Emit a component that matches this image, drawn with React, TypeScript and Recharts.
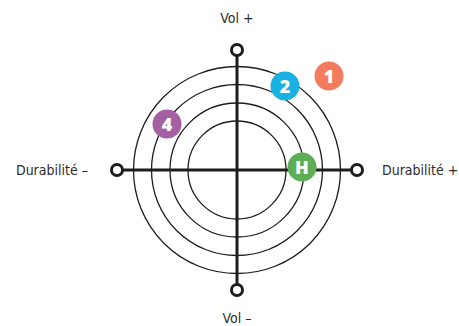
import { ReferenceLine, Scatter, ScatterChart, XAxis, YAxis } from "recharts";

// axis ends (data units, centre = 0,0)
const axisEnds = [
    { x: 0, y: 120, label: "Vol +", side: "top" },
    { x: 0, y: -120, label: "Vol –", side: "bottom" },
    { x: -120, y: 0, label: "Durabilité –", side: "left" },
    { x: 120, y: 0, label: "Durabilité +", side: "right" },
];

// concentric rings radii
const ringRadii = [49, 67, 85.5, 103.5];

// numbered markers
const markerIds = ["1", "2", "4", "H"];
const markerX = [92, 48, -70, 65];
const markerY = [94, 84, 46, 3];
const markerColors = ["#F37C5E", "#1AB0E2", "#A460A2", "#5DAE55"];

const rings = ringRadii.map(r => ({ x: 0, y: 0, r }));
const markers = markerIds.map((id, i) => ({ id, x: markerX[i], y: markerY[i], color: markerColors[i] }));

const W = 459;
const H = 326;
const X_DOMAIN: [number, number] = [-237, 222];
const Y_DOMAIN: [number, number] = [-156, 170];
const PX_PER_UNIT = W / (X_DOMAIN[1] - X_DOMAIN[0]);

const INK = "#1d1d1b";
const LABEL_FONT = "'Liberation Sans Narrow', 'DejaVu Sans Condensed', 'Roboto', sans-serif";

const RingShape = (props: any) => (
    <circle cx={props.cx} cy={props.cy} r={props.payload.r * PX_PER_UNIT} fill="none" stroke={INK} strokeWidth={1.3} />
);

const EndShape = (props: any) => {
    const { cx, cy, payload } = props;
    let tx = cx, ty = cy, anchor = "middle";
    if (payload.side === "top") ty = cy - 27;
    if (payload.side === "bottom") ty = cy + 33;
    if (payload.side === "left") { tx = cx - 29; anchor = "end"; ty = cy + 5; }
    if (payload.side === "right") { tx = cx + 25; anchor = "start"; ty = cy + 5; }
    return <g>
        <circle cx={cx} cy={cy} r={5.5} fill="#fff" stroke={INK} strokeWidth={3} />
        <text x={tx} y={ty} textAnchor={anchor} fontSize={14} fill="#2b2b2b" fontFamily={LABEL_FONT}>{payload.label}</text>
    </g>;
};

const MarkerShape = (props: any) => {
    const { cx, cy, payload } = props;
    return <g>
        <circle cx={cx} cy={cy} r={14.5} fill={payload.color} />
        <text x={cx} y={cy + 6.5} textAnchor="middle" fontSize={18} fontWeight={900} fill="#fff" fontFamily="'Open Sans', 'Roboto', sans-serif">{payload.id}</text>
    </g>;
};

const App = () => {
    return <div style={{ position: "absolute", left: 0, top: 0, background: "#fff" }}>
        <ScatterChart width={W} height={H} margin={{ top: 0, right: 0, bottom: 0, left: 0 }}>
            <XAxis type="number" dataKey="x" domain={X_DOMAIN} allowDataOverflow hide />
            <YAxis type="number" dataKey="y" domain={Y_DOMAIN} allowDataOverflow hide />
            <Scatter data={rings} shape={RingShape} isAnimationActive={false} />
            <ReferenceLine segment={[{ x: -120, y: 0 }, { x: 120, y: 0 }]} stroke={INK} strokeWidth={3} />
            <ReferenceLine segment={[{ x: 0, y: -120 }, { x: 0, y: 120 }]} stroke={INK} strokeWidth={3} />
            <Scatter data={axisEnds} shape={EndShape} isAnimationActive={false} />
            <Scatter data={markers} shape={MarkerShape} isAnimationActive={false} />
        </ScatterChart>
    </div>;
}

export default App;
